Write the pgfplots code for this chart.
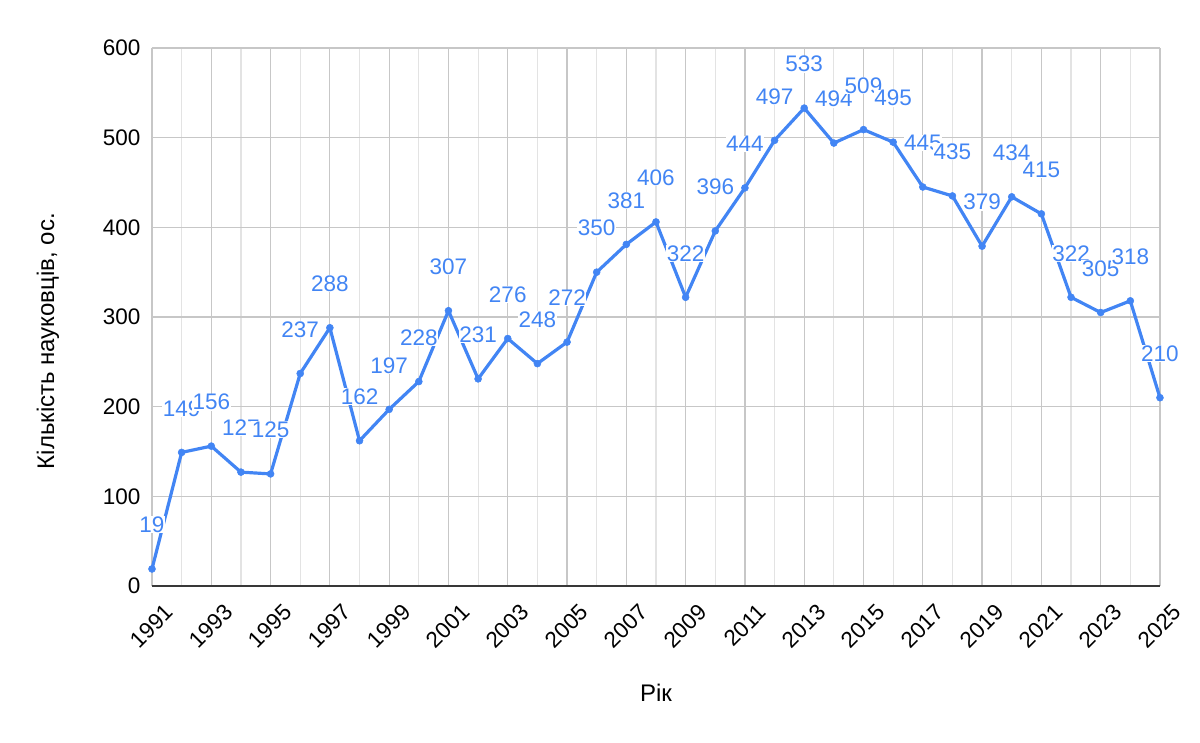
\documentclass[border=0pt]{standalone}
\usepackage{fontspec}
\setmainfont{Liberation Sans}
\usepackage{pgfplots}
\pgfplotsset{compat=1.18}
\definecolor{gblue}{HTML}{4285F4}
\begin{document}
\begin{tikzpicture}
\useasboundingbox (-152pt,-156pt) rectangle (1048pt,586pt);
\begin{axis}[at={(0,0)}, anchor=south west, scale only axis, width=1008pt, height=538pt,
  xmin=1991, xmax=2025, ymin=0, ymax=600,
  xtick={1991,1993,...,2025}, minor xtick={1992,1994,...,2024},
  ytick={0,100,...,600},
  grid=both,
  major grid style={color=black!22, line width=1.2pt},
  minor grid style={color=black!11, line width=1.2pt},
  axis x line*=bottom, axis y line*=left,
  y axis line style={draw=none},
  x axis line style={-, draw=black!78, line width=1.8pt},
  major tick length=0pt, minor tick length=0pt,
  /pgf/number format/assume math mode=true,
  /pgf/number format/set thousands separator={},
  xticklabel style={rotate=45, anchor=east, font=\fontsize{22.5}{22.5}\selectfont, xshift=0pt, yshift=-28pt},
  yticklabel style={font=\fontsize{22.5}{22.5}\selectfont, xshift=-8pt},
  xlabel={Рік}, ylabel={Кількість науковців, ос.},
  label style={font=\fontsize{24}{24}\selectfont},
  xlabel style={at={(axis description cs:0.5,-0.199)}, anchor=center},
  ylabel style={at={(axis description cs:-0.1032,0.455)}, anchor=center},
  clip=false,
]
\addplot[gblue, line width=3.2pt, mark=*, mark size=3.5pt,
  mark options={draw=gblue, fill=gblue, line width=0.5pt},
  nodes near coords,
  every node near coord/.append style={anchor=center, yshift=44pt, fill=white, text=gblue, inner sep=0.5pt, font=\fontsize{22.5}{22.5}\selectfont},
] coordinates {
(1991,19) (1992,149) (1993,156) (1994,127) (1995,125) (1996,237) (1997,288)
(1998,162) (1999,197) (2000,228) (2001,307) (2002,231) (2003,276) (2004,248)
(2005,272) (2006,350) (2007,381) (2008,406) (2009,322) (2010,396) (2011,444)
(2012,497) (2013,533) (2014,494) (2015,509) (2016,495) (2017,445) (2018,435)
(2019,379) (2020,434) (2021,415) (2022,322) (2023,305) (2024,318) (2025,210)
};
\end{axis}
\end{tikzpicture}
\end{document}
